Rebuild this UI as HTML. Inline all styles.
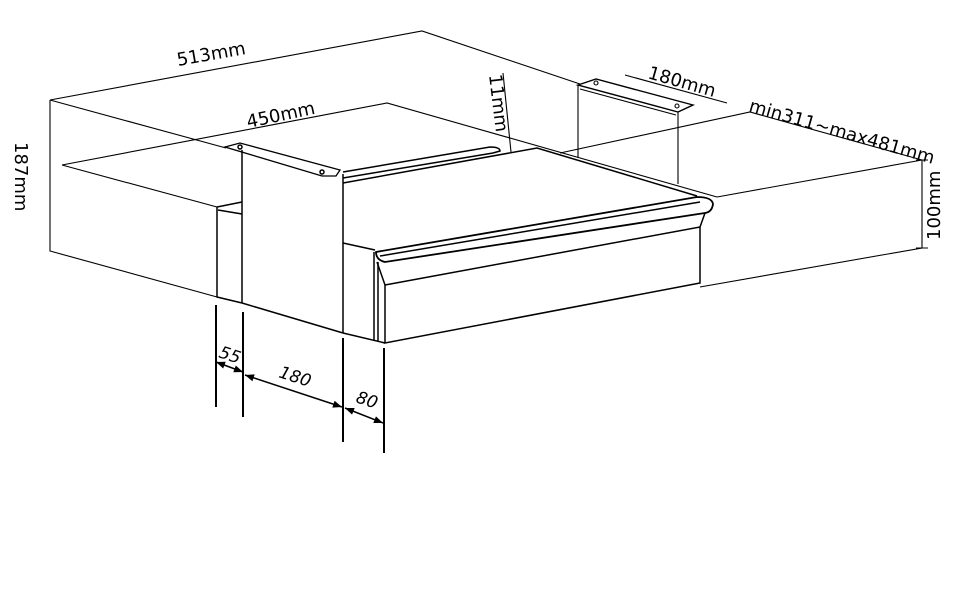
<!DOCTYPE html>
<html><head><meta charset="utf-8"><style>
html,body{margin:0;padding:0;background:#fff;}
svg{display:block;}
text{font-family:"DejaVu Sans","Liberation Sans",sans-serif;fill:#000;}
</style></head><body>
<svg width="960" height="600" viewBox="0 0 960 600" xmlns="http://www.w3.org/2000/svg">
<defs>
<marker id="ar" viewBox="0 0 10 10" refX="10" refY="5" markerWidth="8" markerHeight="6" orient="auto-start-reverse"><path d="M0,1 L10,5 L0,9 z" fill="#000"/></marker>
</defs>
<g fill="none" stroke="#000" stroke-width="1.1">
<path d="M50,100 L422,31 L580,84"/>
<path d="M50,100 L50,251 L217,297"/>
<path d="M50,100 L226,148"/>
<path d="M62,165 L387,103 L717,197"/>
<path d="M62,165 L217,207"/>
<path d="M560,153 L750,112 L922,160 L922,248 L700,287"/>
<path d="M717,197 L922,160"/>
<path d="M916,160 L928,160 M916,248 L928,248"/>
<path d="M625,75 L727,103"/>
<path d="M503,73 L511,152"/>
<path d="M578,85 L596,79 L693,105 L678,112 Z" stroke-width="1.4"/>
<path d="M578,85 L578,157 M678,112 L678,184 M580,89 L676,115"/>
<circle cx="596" cy="83" r="2"/><circle cx="677" cy="106" r="2"/>
</g>
<g fill="none" stroke="#000" stroke-width="1.5">
<path d="M343,172 L490,147 Q500,147 500,151 L493,153 L343,178"/>
<path d="M343,183 L537,148 L697,196"/>
<path d="M343,243 L375,250"/>
<path d="M376,252 L697,197 Q712,197 713,204 Q712,212 705,213 L385,262 Q376,260 376,252 Z" stroke-width="1.8"/>
<path d="M380,256 L700,202"/>
<path d="M377,262 L385,285 L700,227 L700,283 L385,343 L385,285"/>
<path d="M705,213 L700,227"/>
<path d="M374,252 L374,340 M378,262 L378,341"/>
<path d="M343,333 L385,343"/>
<path d="M225,147 L240,143 L340,170 L336,176 L322,176 Z" stroke-width="1.3"/>
<circle cx="240" cy="147" r="2"/><circle cx="322" cy="172" r="2"/>
<path d="M242,150 L242,303 M343,174 L343,333"/>
<path d="M242,303 L343,333"/>
<path d="M217,207 L217,297 L242,303 M217,207 L242,202 M218,210 L242,214"/>
</g>
<g stroke="#000" stroke-width="2">
<path d="M216,305 L216,407 M243,312 L243,417 M343,338 L343,442 M384,348 L384,453"/>
</g>
<g stroke="#000" stroke-width="1.5" fill="none">
<path d="M216,362 L243,372" marker-start="url(#ar)" marker-end="url(#ar)"/>
<path d="M245,375 L342,407" marker-start="url(#ar)" marker-end="url(#ar)"/>
<path d="M345,408 L383,423" marker-start="url(#ar)" marker-end="url(#ar)"/>
</g>
<text font-size="17" font-style="italic" transform="translate(218,357) rotate(18)">55</text>
<text font-size="17" font-style="italic" transform="translate(278,377) rotate(18)">180</text>
<text font-size="17" font-style="italic" transform="translate(355,402) rotate(18)">80</text>
<text font-size="18" transform="translate(178,66) rotate(-10)">513mm</text>
<text font-size="18" transform="translate(248,128) rotate(-12)">450mm</text>
<text font-size="18" transform="translate(15,142) rotate(90)">187mm</text>
<text font-size="18" transform="translate(489,75) rotate(83)">11mm</text>
<text font-size="18" transform="translate(647,78) rotate(16)">180mm</text>
<text font-size="18" transform="translate(748,111) rotate(16)">min311~max481mm</text>
<text font-size="18" transform="translate(940,240) rotate(-90)">100mm</text>
</svg>
</body></html>
